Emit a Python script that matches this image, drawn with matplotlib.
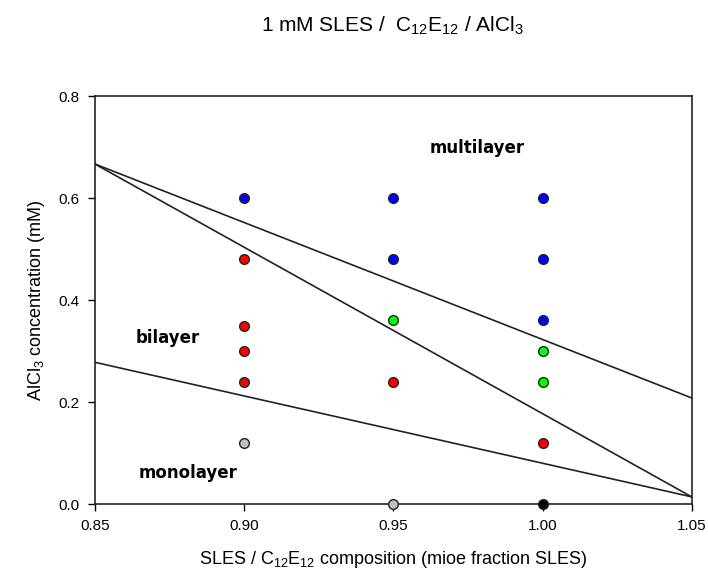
import matplotlib.pyplot as plt

plt.rcParams['font.family'] = ['Liberation Sans', 'DejaVu Sans']
plt.rcParams['mathtext.default'] = 'regular'

# observed phases: (SLES fraction, AlCl3 conc, colour)
blue_x = [0.90, 0.95, 0.95, 1.00, 1.00, 1.00]
blue_y = [0.60, 0.60, 0.48, 0.60, 0.48, 0.36]
red_x = [0.90, 0.90, 0.90, 0.90, 0.95, 1.00]
red_y = [0.48, 0.35, 0.30, 0.24, 0.24, 0.12]
green_x = [0.95, 1.00, 1.00]
green_y = [0.36, 0.30, 0.24]
grey_x = [0.90, 0.95]
grey_y = [0.12, 0.00]
black_x = [1.00]
black_y = [0.00]

# boundary lines
line_x = [0.85, 1.05]
line1_y = [0.667, 0.208]
line2_y = [0.667, 0.014]
line3_y = [0.278, 0.014]

fig = plt.figure(figsize=(7.08, 5.76), dpi=100)
ax = fig.add_axes([0.134, 0.125, 0.843, 0.708])

for ly in (line1_y, line2_y, line3_y):
    ax.plot(line_x, ly, color='#222222', lw=1.2, zorder=2)

groups = [(blue_x, blue_y, '#0000ff'), (red_x, red_y, '#ff0000'),
          (green_x, green_y, '#00ff00'), (grey_x, grey_y, '#c0c0c0'),
          (black_x, black_y, '#000000')]
for gx, gy, c in groups:
    ax.plot(gx, gy, 'o', ms=7, mfc=c, mec='#222222', mew=1.0,
            clip_on=False, zorder=3)

ax.text(0.978, 0.698, 'multilayer', fontsize=12, fontweight='bold',
        family='DejaVu Sans', ha='center', va='center')
ax.text(0.8745, 0.325, 'bilayer', fontsize=12, fontweight='bold',
        family='DejaVu Sans', ha='center', va='center')
ax.text(0.8813, 0.061, 'monolayer', fontsize=12, fontweight='bold',
        family='DejaVu Sans', ha='center', va='center')

ax.set_xlim(0.85, 1.05)
ax.set_ylim(0.0, 0.8)
ax.set_xticks([0.85, 0.90, 0.95, 1.00, 1.05])
ax.set_xticklabels(['0.85', '0.90', '0.95', '1.00', '1.05'])
ax.set_yticks([0.0, 0.2, 0.4, 0.6, 0.8])
ax.set_yticklabels(['0.0', '0.2', '0.4', '0.6', '0.8'])
ax.tick_params(direction='out', length=5, width=1, labelsize=11, pad=6)
for s in ax.spines.values():
    s.set_linewidth(1.2)
    s.set_color('#222222')

ax.set_xlabel('SLES / C$_{12}$E$_{12}$ composition (mioe fraction SLES)',
              fontsize=13, labelpad=11)
ax.set_ylabel('AlCl$_3$ concentration (mM)', fontsize=13, labelpad=8)
fig.suptitle('1 mM SLES /  C$_{12}$E$_{12}$ / AlCl$_3$', x=0.555, y=0.975,
             fontsize=15)

fig.savefig('out.png', dpi=100)
